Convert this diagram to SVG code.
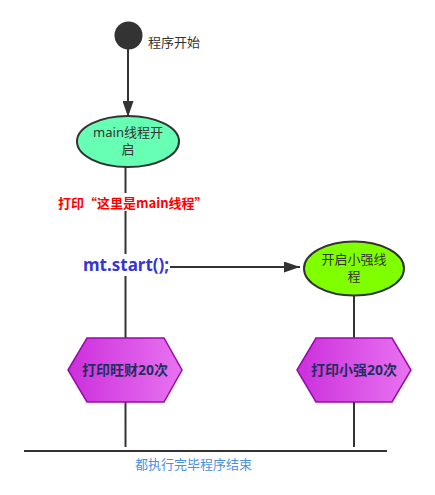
<svg xmlns="http://www.w3.org/2000/svg" width="435" height="495" viewBox="0 0 435 495">
<style>
.t{font-family:"Noto Sans","Noto Sans CJK SC",sans-serif}
.cj{font-family:"Noto Sans CJK SC",sans-serif}
.c{stroke:#333;stroke-width:2;fill:none}
.hx{fill:url(#hg);stroke:#990aaa;stroke-width:1.5}
.ht{font-family:"Noto Sans","Noto Sans CJK SC",sans-serif;font-size:14px;font-weight:bold;fill:#1f2f5f;text-anchor:middle}
.et{font-family:"Noto Sans","Noto Sans CJK SC",sans-serif;font-size:13px;fill:#333;text-anchor:middle}
</style>
<defs>
<linearGradient id="hg" x1="0" y1="0" x2="1" y2="0">
<stop offset="0" stop-color="#cc2fdc"/>
<stop offset="1" stop-color="#e873f0"/>
</linearGradient>
<marker id="ar" viewBox="0 0 16 11" refX="16" refY="5.5" markerWidth="16" markerHeight="11" markerUnits="userSpaceOnUse" orient="auto">
<path d="M0,0 L16,5.5 L0,11 Z" fill="#333"/>
</marker>
</defs>
<rect width="435" height="495" fill="#fff"/>
<g id="connectors">
<line class="c" x1="128" y1="49" x2="128" y2="117" marker-end="url(#ar)"/>
<line class="c" x1="125.5" y1="167" x2="125.5" y2="338"/>
<line class="c" x1="170" y1="267" x2="300" y2="267" marker-end="url(#ar)"/>
<line class="c" x1="354" y1="295" x2="354" y2="338"/>
<line class="c" x1="125.5" y1="402" x2="125.5" y2="447"/>
<line class="c" x1="354" y1="402" x2="354" y2="447"/>
<line class="c" x1="24" y1="451" x2="387" y2="451"/>
</g>
<g id="start">
<circle cx="128.5" cy="35.5" r="14" fill="#333"/>
<text class="t" x="148" y="46.5" font-size="13" fill="#333">程序开始</text>
</g>
<g id="main">
<ellipse cx="128" cy="141.5" rx="51" ry="25.5" fill="#66ffb3" stroke="#333" stroke-width="2"/>
<text class="et" x="128" y="137">main线程开</text>
<text class="et" x="128" y="154">启</text>
</g>
<g id="print-main">
<rect x="57" y="193" width="150" height="18" fill="#fff"/>
<text class="cj" x="58" y="208" font-size="13" font-weight="bold" fill="#f00">打印“这里是main线程”</text>
</g>
<g id="mt-start">
<rect x="82" y="254" width="88" height="22" fill="#fff"/>
<text class="t" x="83" y="271" font-size="17" font-weight="bold" fill="#3535d8">mt.start();</text>
</g>
<g id="xq">
<ellipse cx="354" cy="268.5" rx="50" ry="27" fill="#80ff00" stroke="#333" stroke-width="2"/>
<text class="et" x="354" y="264">开启小强线</text>
<text class="et" x="354" y="281">程</text>
</g>
<g id="print-wc">
<polygon class="hx" points="68,370 87,338 164,338 182,370 164,402 87,402"/>
<text class="ht" x="125" y="375">打印旺财20次</text>
</g>
<g id="print-xq">
<polygon class="hx" points="297,370 316,338 392,338 411,370 392,402 316,402"/>
<text class="ht" x="354" y="375">打印小强20次</text>
</g>
<g id="end">
<text class="t" x="135" y="469" font-size="13" fill="#4a90e2">都执行完毕程序结束</text>
</g>
</svg>
